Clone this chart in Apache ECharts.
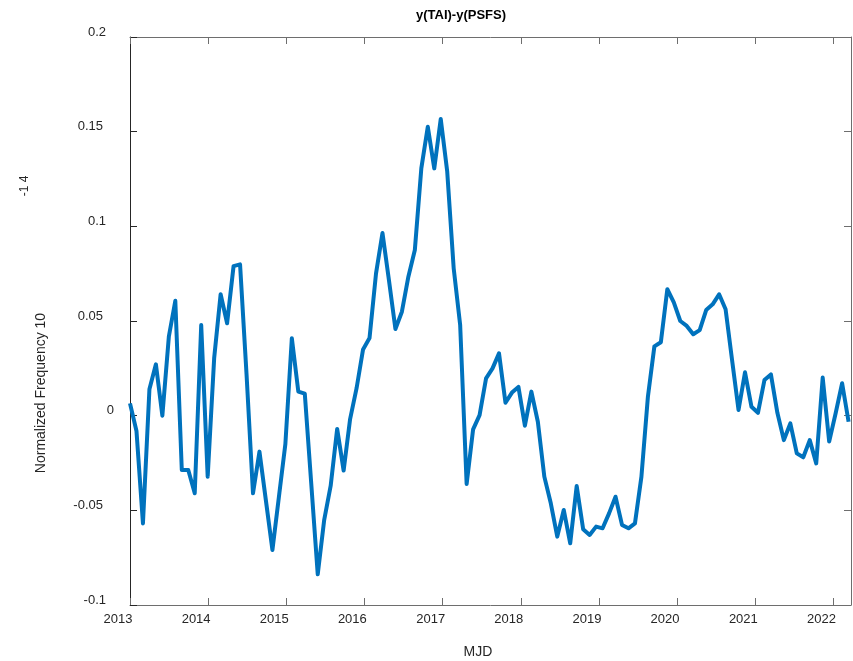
<!DOCTYPE html>
<html>
<head>
<meta charset="utf-8">
<title>y(TAI)-y(PSFS)</title>
<script src="https://cdn.jsdelivr.net/npm/echarts@6.0.0/dist/echarts.min.js"></script>
<style>
  html, body { margin: 0; padding: 0; background: #ffffff; }
  #chart { width: 853px; height: 661px; }
</style>
</head>
<body>
<div id="chart"></div>
<script>
// Monthly samples of the fractional frequency difference (units of 1e-14)
const firstSampleMJD = 56293;   // 2013-01-01
const sampleStepDays = 30.25;

const freqDiff = [
  0.0065, -0.0081, -0.0569, 0.0139, 0.0271, 0.0, 0.0417, 0.0607, -0.0287, -0.0287,
  -0.041, 0.0479, -0.0322, 0.0303, 0.0641, 0.0488, 0.079, 0.0799, 0.022, -0.041,
  -0.019, -0.045, -0.071, -0.043, -0.015, 0.0409, 0.0127, 0.0116, -0.036, -0.0838,
  -0.055, -0.037, -0.007, -0.029, -0.0018, 0.0145, 0.035, 0.041, 0.075, 0.0965,
  0.0715, 0.0458, 0.0549, 0.0734, 0.0875, 0.1306, 0.1526, 0.1306, 0.1567, 0.1289,
  0.0778, 0.0479, -0.0361, -0.0072, 0.0003, 0.0197, 0.025, 0.0329, 0.0068, 0.0122,
  0.0152, -0.0053, 0.0127, -0.0032, -0.0322, -0.0463, -0.0639, -0.0498, -0.0674, -0.0372,
  -0.06, -0.063, -0.0586, -0.0595, -0.0516, -0.0428, -0.0577, -0.0595, -0.0569, -0.0322,
  0.01, 0.0366, 0.0388, 0.0668, 0.0598, 0.05, 0.0474, 0.043, 0.0452, 0.0558,
  0.0588, 0.0641, 0.0562, 0.0294, 0.003, 0.0229, 0.0047, 0.0015, 0.0188, 0.0218,
  0.0015, -0.0129, -0.0041, -0.0199, -0.022, -0.0129, -0.0252, 0.0201, -0.0137, 0.0013,
  0.0171, -0.0032
];

// Year boundaries on the MJD axis
const yearTicksMJD = [56293, 56658, 57023, 57388, 57754, 58119, 58484, 58849, 59215, 59580];
const yearTickLabels = ['2013', '2014', '2015', '2016', '2017', '2018', '2019', '2020', '2021', '2022'];

const xMinMJD = 56293;
const xMaxMJD = 59662;
const yMin = -0.1;
const yMax = 0.2;
const yStep = 0.05;

const titleText = 'y(TAI)-y(PSFS)';
const xAxisTitle = 'MJD';
const yAxisTitle = 'Normalized Frequency 10';
const yAxisExponent = '-1 4';

const FONT = '"Liberation Sans", Arial, Helvetica, sans-serif';
const AXIS_DARK = '#262626';
const AXIS_GREY = '#6e6e6e';
const LINE_BLUE = '#0072bd';

const points = freqDiff.map((v, i) => [firstSampleMJD + i * sampleStepDays, v]);

// Per-label right padding of the y tick labels
const yLabelKeys = { '0.2': 'a', '0.15': 'b', '0.1': 'a', '0.05': 'b', '0': 'c', '-0.05': 'b', '-0.1': 'a' };
const yLabelRich = {
  a: { padding: [0, 8, 0, 0], fontFamily: FONT, fontSize: 13, color: AXIS_DARK },
  b: { padding: [0, 11, 0, 0], fontFamily: FONT, fontSize: 13, color: AXIS_DARK },
  c: { padding: [0, 0, 0, 0], fontFamily: FONT, fontSize: 13, color: AXIS_DARK }
};

const fmtY = v => String(+(+v).toFixed(2));

const chart = echarts.init(document.getElementById('chart'), null, { renderer: 'canvas' });

chart.setOption({
  backgroundColor: '#ffffff',
  animation: false,
  grid: { left: 130, right: 2, top: 37, bottom: 56, containLabel: false },
  xAxis: [
    {
      type: 'value', position: 'bottom', min: xMinMJD, max: xMaxMJD,
      axisLine: { show: true, onZero: false, lineStyle: { color: AXIS_GREY, width: 1 } },
      axisTick: { show: true, inside: true, length: 7, customValues: yearTicksMJD, lineStyle: { color: AXIS_GREY } },
      axisLabel: {
        show: true, customValues: yearTicksMJD, margin: 8,
        fontFamily: FONT, fontSize: 13, color: AXIS_DARK,
        padding: [0, 24, 0, 0],
        showMinLabel: true, showMaxLabel: true,
        formatter: v => yearTickLabels[yearTicksMJD.indexOf(v)] || ''
      },
      splitLine: { show: false }
    },
    {
      type: 'value', position: 'top', min: xMinMJD, max: xMaxMJD,
      axisLine: { show: true, onZero: false, lineStyle: { color: AXIS_GREY, width: 1 } },
      axisTick: { show: true, inside: true, length: 7, customValues: yearTicksMJD, lineStyle: { color: AXIS_GREY } },
      axisLabel: { show: false },
      splitLine: { show: false }
    }
  ],
  yAxis: [
    {
      type: 'value', position: 'left', min: yMin, max: yMax, interval: yStep,
      axisLine: { show: true, onZero: false, lineStyle: { color: AXIS_DARK, width: 1 } },
      axisTick: { show: true, inside: true, length: 7, lineStyle: { color: AXIS_DARK } },
      axisLabel: {
        show: true, margin: 16, align: 'right',
        padding: [0, 0, 10, 0],
        fontFamily: FONT, fontSize: 13, color: AXIS_DARK,
        showMinLabel: true, showMaxLabel: true,
        formatter: v => {
          const s = fmtY(v);
          return '{' + (yLabelKeys[s] || 'a') + '|' + s + '}';
        },
        rich: yLabelRich
      },
      splitLine: { show: false }
    },
    {
      type: 'value', position: 'right', min: yMin, max: yMax, interval: yStep,
      axisLine: { show: true, onZero: false, lineStyle: { color: AXIS_GREY, width: 1 } },
      axisTick: { show: true, inside: true, length: 7, lineStyle: { color: AXIS_GREY } },
      axisLabel: { show: false },
      splitLine: { show: false }
    }
  ],
  series: [
    {
      type: 'line',
      xAxisIndex: 0,
      yAxisIndex: 0,
      data: points,
      showSymbol: false,
      symbol: 'none',
      clip: true,
      lineStyle: { color: LINE_BLUE, width: 4, join: 'round', cap: 'butt' }
    }
  ],
  graphic: [
    {
      type: 'text', x: 461, y: 15,
      style: { text: titleText, x: 0, y: 0, align: 'center', verticalAlign: 'middle',
               font: 'bold 13px ' + FONT, fill: '#000000' }
    },
    {
      type: 'text', x: 478, y: 652,
      style: { text: xAxisTitle, x: 0, y: 0, align: 'center', verticalAlign: 'middle',
               font: '14px ' + FONT, fill: AXIS_DARK }
    },
    {
      type: 'text', x: 41, y: 393, rotation: Math.PI / 2,
      style: { text: yAxisTitle, x: 0, y: 0, align: 'center', verticalAlign: 'middle',
               font: '14px ' + FONT, fill: AXIS_DARK }
    },
    {
      type: 'text', x: 25, y: 186, rotation: Math.PI / 2,
      style: { text: yAxisExponent, x: 0, y: 0, align: 'center', verticalAlign: 'middle',
               font: '12px ' + FONT, fill: AXIS_DARK }
    }
  ]
});
</script>
</body>
</html>
